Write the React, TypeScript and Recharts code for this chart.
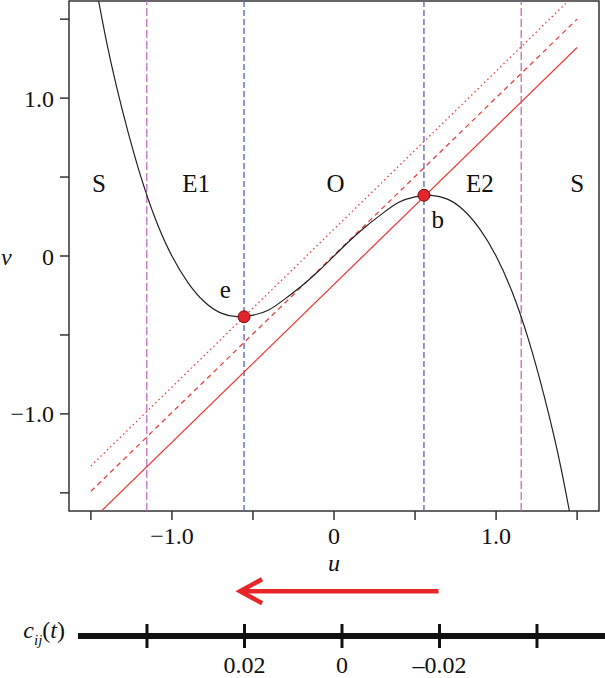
import React from 'react';
import { ComposedChart, Line, Scatter, XAxis, YAxis, ReferenceLine, ReferenceArea } from 'recharts';

// cubic nullcline
const curve = [
  { u: -1.5, v: 1.88 }, { u: -1.4, v: 1.34 }, { u: -1.3, v: 0.9 }, { u: -1.2, v: 0.53 },
  { u: -1.1, v: 0.23 }, { u: -1.0, v: 0.0 }, { u: -0.9, v: -0.17 }, { u: -0.8, v: -0.29 },
  { u: -0.7, v: -0.36 }, { u: -0.6, v: -0.384 }, { u: -0.5, v: -0.375 }, { u: -0.4, v: -0.34 },
  { u: -0.3, v: -0.27 }, { u: -0.2, v: -0.19 }, { u: -0.1, v: -0.1 }, { u: 0, v: 0 },
  { u: 0.1, v: 0.1 }, { u: 0.2, v: 0.19 }, { u: 0.3, v: 0.27 }, { u: 0.4, v: 0.34 },
  { u: 0.5, v: 0.375 }, { u: 0.6, v: 0.384 }, { u: 0.7, v: 0.36 }, { u: 0.8, v: 0.29 },
  { u: 0.9, v: 0.17 }, { u: 1.0, v: 0.0 }, { u: 1.1, v: -0.23 }, { u: 1.2, v: -0.53 },
  { u: 1.3, v: -0.9 }, { u: 1.4, v: -1.34 }, { u: 1.5, v: -1.88 },
];

// linear nullclines (red)
const lineSolid = [{ u: -1.45, v: -1.63 }, { u: 1.5, v: 1.32 }];
const lineDashed = [{ u: -1.5, v: -1.49 }, { u: 1.5, v: 1.5 }];
const lineDotted = [{ u: -1.5, v: -1.33 }, { u: 1.5, v: 1.67 }];

const fixedPoints = [{ u: -0.555, v: -0.385 }, { u: 0.555, v: 0.385 }];
const pointLabels = [{ u: -0.67, v: -0.215, text: 'e' }, { u: 0.64, v: 0.23, text: 'b' }];
const regionLabels = [
  { u: -1.45, v: 0.46, text: 'S' },
  { u: -0.85, v: 0.46, text: 'E1' },
  { u: 0.01, v: 0.46, text: 'O' },
  { u: 0.9, v: 0.46, text: 'E2' },
  { u: 1.5, v: 0.46, text: 'S' },
];
const outerBounds = [-1.155, 1.155];
const innerBounds = [-0.555, 0.555];

const axisTicks = [-1.5, -1, -0.5, 0, 0.5, 1, 1.5];
const axisTickLabels = ['', '\u22121.0', '', '0', '', '1.0', ''];

// c_ij(t) scale below the plot
const cTicks = [0.04, 0.02, 0, -0.02, -0.04];
const cTickLabels = ['', '0.02', '0', '\u20130.02', ''];
const arrowLevel = 0.69;
const arrow = [{ c: -0.0198, y: arrowLevel }, { c: 0.0209, y: arrowLevel }];

const FONT = '"Liberation Serif", "Times New Roman", serif';
const FRAME = '#333';
const RED = '#e8413c';

const fmtTick = (v: number) => {
  const i = axisTicks.indexOf(v);
  return i >= 0 ? axisTickLabels[i] : '';
};

const TextShape = (props: any) => {
  const { cx, cy, payload } = props;
  return (
    <text x={cx} y={cy} textAnchor="middle" dominantBaseline="central" fontFamily={FONT} fontSize={25} fill="#111">
      {payload.text}
    </text>
  );
};

const PointShape = (props: any) => {
  const { cx, cy } = props;
  return <circle cx={cx} cy={cy} r={6} fill="#e3262b" stroke="#7a0f10" strokeWidth={1} />;
};

const CTick = (props: any) => {
  const { x, y, payload } = props;
  const i = cTicks.indexOf(payload.value);
  const label = i >= 0 ? cTickLabels[i] : '';
  return (
    <g>
      <line x1={x} x2={x} y1={y - 12} y2={y + 12} stroke="#111" strokeWidth={3} />
      {label && (
        <text x={x} y={y + 37} textAnchor="middle" fontFamily={FONT} fontSize={24} fill="#111">
          {label}
        </text>
      )}
    </g>
  );
};

const ArrowHead = (props: any) => {
  const { cx, cy, index } = props;
  if (index !== 1) return <g key={`a-${index}`} />;
  return (
    <polyline
      key={`a-${index}`}
      points={`${cx + 22},${cy - 12} ${cx},${cy} ${cx + 22},${cy + 12}`}
      fill="none"
      stroke="#e8262a"
      strokeWidth={4.5}
    />
  );
};

const CLabel = (props: any) => {
  const { viewBox } = props;
  const x = viewBox.x - 13;
  const y = viewBox.y + 2;
  return (
    <text x={x} y={y} textAnchor="end" fontFamily={FONT} fontSize={24} fill="#111">
      <tspan fontStyle="italic">c</tspan>
      <tspan fontStyle="italic" fontSize={15} dy={7}>ij</tspan>
      <tspan dy={-7}>(</tspan>
      <tspan fontStyle="italic">t</tspan>
      <tspan>)</tspan>
    </text>
  );
};

export default function App() {
  return (
    <div style={{ position: 'absolute', left: 0, top: 0, width: 605, height: 678, background: '#fff' }}>
      <div style={{ position: 'absolute', left: 0, top: 0 }}>
        <ComposedChart width={605} height={582} margin={{ top: 1, right: 6, left: 0, bottom: 11 }}>
          <XAxis
            dataKey="u"
            type="number"
            domain={[-1.635, 1.635]}
            allowDataOverflow
            ticks={axisTicks}
            tickFormatter={fmtTick}
            interval={0}
            height={60}
            axisLine={false}
            tickSize={9}
            tickMargin={7}
            tickLine={{ stroke: FRAME, strokeWidth: 1.5 }}
            tick={{ fill: '#111', fontSize: 24, fontFamily: FONT }}
            label={{ value: 'u', position: 'insideBottom', offset: 0, fontStyle: 'italic', fontSize: 24, fontFamily: FONT, fill: '#111' }}
          />
          <YAxis
            type="number"
            domain={[-1.615, 1.615]}
            allowDataOverflow
            ticks={axisTicks}
            tickFormatter={fmtTick}
            interval={0}
            width={69}
            axisLine={false}
            tickSize={9}
            tickMargin={6}
            tickLine={{ stroke: FRAME, strokeWidth: 1.5 }}
            tick={{ fill: '#111', fontSize: 24, fontFamily: FONT }}
            label={{ value: 'v', position: 'insideLeft', offset: 1, fontStyle: 'italic', fontSize: 24, fontFamily: FONT, fill: '#111' }}
          />
          <ReferenceArea x1={-1.635} x2={1.635} y1={-1.615} y2={1.615} fill="none" stroke={FRAME} strokeWidth={1.5} />
          {outerBounds.map((x) => (
            <ReferenceLine key={`o${x}`} x={x} stroke="#c46bc4" strokeWidth={1.3} strokeDasharray="8 3" />
          ))}
          {innerBounds.map((x) => (
            <ReferenceLine key={`i${x}`} x={x} stroke="#5164b4" strokeWidth={1.3} strokeDasharray="6 3" />
          ))}
          <Line data={lineSolid} dataKey="v" stroke={RED} strokeWidth={1.3} dot={false} isAnimationActive={false} />
          <Line data={lineDashed} dataKey="v" stroke={RED} strokeWidth={1.3} strokeDasharray="5 4" dot={false} isAnimationActive={false} />
          <Line data={lineDotted} dataKey="v" stroke={RED} strokeWidth={1.3} strokeDasharray="1.5 3" dot={false} isAnimationActive={false} />
          <Line data={curve} dataKey="v" type="natural" stroke="#222" strokeWidth={1.2} dot={false} isAnimationActive={false} />
          <Scatter data={fixedPoints} dataKey="v" shape={PointShape} isAnimationActive={false} />
          <Scatter data={regionLabels} dataKey="v" shape={TextShape} isAnimationActive={false} />
          <Scatter data={pointLabels} dataKey="v" shape={TextShape} isAnimationActive={false} />
        </ComposedChart>
      </div>
      <div style={{ position: 'absolute', left: 0, top: 571 }}>
        <ComposedChart width={605} height={107} margin={{ top: 0, right: 0, left: 78, bottom: 0 }}>
          <XAxis
            dataKey="c"
            type="number"
            reversed
            domain={[-0.05395, 0.05415]}
            allowDataOverflow
            ticks={cTicks}
            interval={0}
            height={42}
            axisLine={{ stroke: '#111', strokeWidth: 6 }}
            tickLine={false}
            tickSize={0}
            tickMargin={0}
            tick={<CTick />}
            label={<CLabel />}
          />
          <YAxis hide type="number" domain={[0, 1]} width={0} />
          <Line data={arrow} dataKey="y" stroke="#e8262a" strokeWidth={4.5} dot={<ArrowHead />} isAnimationActive={false} />
        </ComposedChart>
      </div>
    </div>
  );
}
